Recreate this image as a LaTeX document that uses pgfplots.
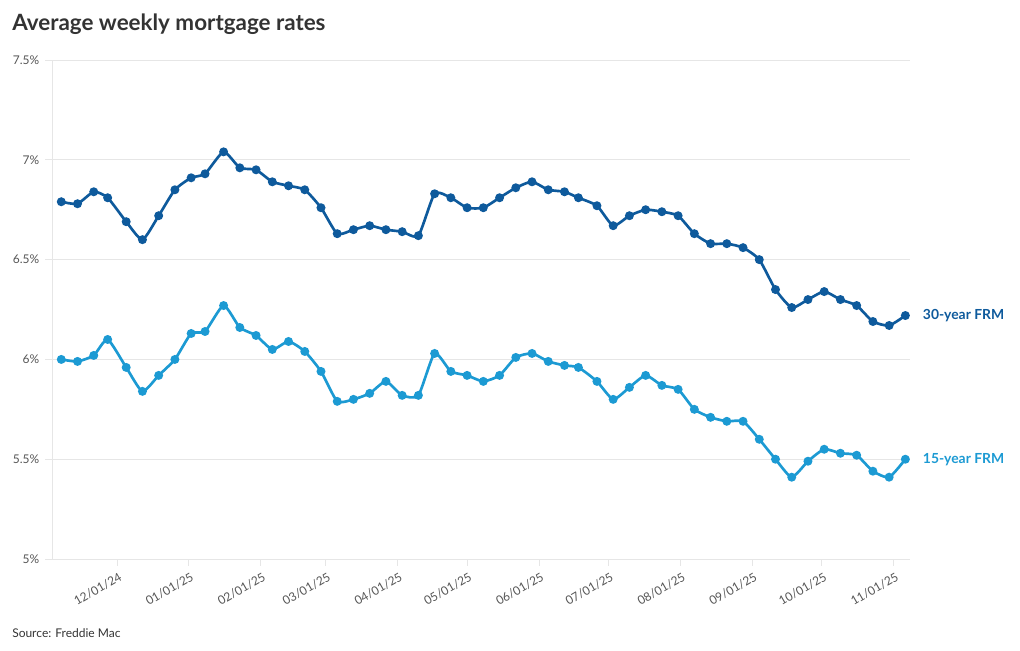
\documentclass[border=0pt]{standalone}
\usepackage{pgfplots}
\pgfplotsset{compat=1.18}
\usepackage{fontspec}
\setmainfont{Lato}
\definecolor{thirty}{HTML}{0E5A9C}
\definecolor{fifteen}{HTML}{1C9AD3}
\definecolor{gridgray}{HTML}{E6E6E6}
\definecolor{txtgray}{HTML}{555555}

% weekly Freddie Mac PMMS rates, x = days since 12/01/24
\pgfplotstableread{
day r30 r15
-24 6.79 6.00
-17 6.78 5.99
-10 6.84 6.02
-4 6.81 6.10
4 6.69 5.96
11 6.60 5.84
18 6.72 5.92
25 6.85 6.00
32 6.91 6.13
38 6.93 6.14
46 7.04 6.27
53 6.96 6.16
60 6.95 6.12
67 6.89 6.05
74 6.87 6.09
81 6.85 6.04
88 6.76 5.94
95 6.63 5.79
102 6.65 5.80
109 6.67 5.83
116 6.65 5.89
123 6.64 5.82
130 6.62 5.82
137 6.83 6.03
144 6.81 5.94
151 6.76 5.92
158 6.76 5.89
165 6.81 5.92
172 6.86 6.01
179 6.89 6.03
186 6.85 5.99
193 6.84 5.97
199 6.81 5.96
207 6.77 5.89
214 6.67 5.80
221 6.72 5.86
228 6.75 5.92
235 6.74 5.87
242 6.72 5.85
249 6.63 5.75
256 6.58 5.71
263 6.58 5.69
270 6.56 5.69
277 6.50 5.60
284 6.35 5.50
291 6.26 5.41
298 6.30 5.49
305 6.34 5.55
312 6.30 5.53
319 6.27 5.52
326 6.19 5.44
333 6.17 5.41
340 6.22 5.50
}\rates

\begin{document}
\begin{tikzpicture}
\path[use as bounding box] (0,0) rectangle (765pt,-487.5pt);
\node[anchor=west, font=\bfseries\fontsize{16.8}{18}\selectfont, text=black!80, inner sep=0pt] at (9pt,-18.5pt) {Average weekly mortgage rates};
\node[anchor=west, font=\fontsize{9}{11}\selectfont, text=black!80, inner sep=0pt] at (9pt,-474.5pt) {Source: Freddie Mac};
\begin{axis}[
  at={(39pt,-419.25pt)}, anchor=south west,
  scale only axis, width=643.5pt, height=374.25pt,
  xmin=-28, xmax=342, ymin=5, ymax=7.5,
  axis line style={draw=none},
  axis x line*=bottom, axis y line*=left,
  ytick={5,5.5,6,6.5,7,7.5},
  yticklabels={5\%,5.5\%,6\%,6.5\%,7\%,7.5\%},
  xtick={0,31,62,90,121,151,182,212,243,274,304,335},
  xticklabels={12/01/24,01/01/25,02/01/25,03/01/25,04/01/25,05/01/25,06/01/25,07/01/25,08/01/25,09/01/25,10/01/25,11/01/25},
  ymajorgrids, grid style={gridgray, line width=0.6pt},
  tick style={gridgray, line width=0.6pt},
  major tick length=5pt,
  ytick align=outside, xtick align=outside,
  tick label style={font=\fontsize{9}{11}\selectfont, text=txtgray},
  yticklabel style={xshift=-1pt},
  xticklabel style={rotate=30, anchor=north east, xshift=2pt, yshift=-1pt},
  /pgf/number format/assume math mode=true,
  clip=false,
]
\draw[gridgray, line width=0.6pt] (axis cs:-28,5) -- (axis cs:-28,7.5);
\addplot[thirty, line width=2pt, smooth, tension=0.35, mark=*, mark size=2.3pt, mark options={solid, fill=thirty, draw=thirty}] table[x=day, y=r30] {\rates};
\addplot[fifteen, line width=2pt, smooth, tension=0.35, mark=*, mark size=2.3pt, mark options={solid, fill=fifteen, draw=fifteen}] table[x=day, y=r15] {\rates};
\draw[black!30, line width=0.6pt] (axis cs:340,6.22) ++(4.5pt,0) -- ++(5.5pt,0);
\draw[black!30, line width=0.6pt] (axis cs:340,5.50) ++(4.5pt,0) -- ++(5.5pt,0);
\node[anchor=west, text=thirty, font=\bfseries\fontsize{10.4}{12}\selectfont, inner sep=0pt] at ([xshift=13pt]axis cs:340,6.22) {30-year FRM};
\node[anchor=west, text=fifteen, font=\bfseries\fontsize{10.4}{12}\selectfont, inner sep=0pt] at ([xshift=13pt]axis cs:340,5.50) {15-year FRM};
\end{axis}
\end{tikzpicture}
\end{document}
